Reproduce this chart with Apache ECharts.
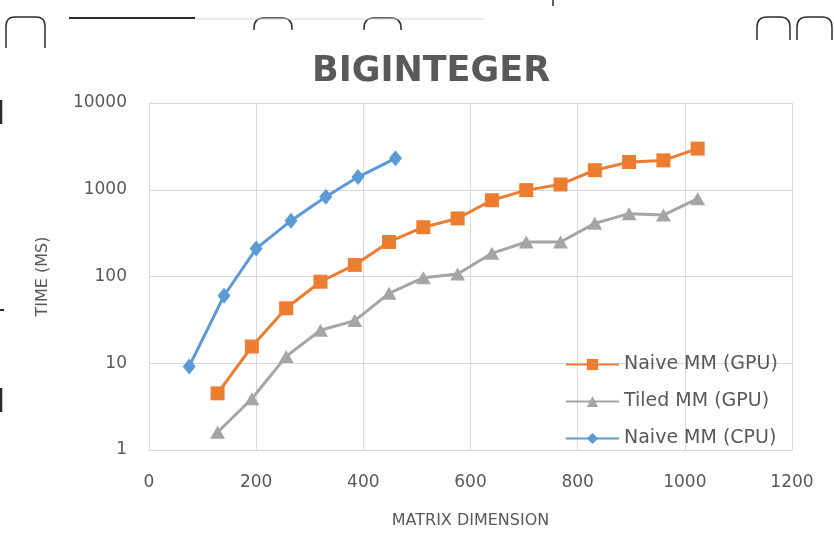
<!DOCTYPE html>
<html>
<head>
<meta charset="utf-8">
<script src="https://cdn.jsdelivr.net/npm/echarts@6/dist/echarts.min.js"></script>
<style>
  html, body { margin: 0; padding: 0; background: #ffffff; }
  #chart { width: 834px; height: 540px; }
</style>
</head>
<body>
<div id="chart"></div>
<script>
// Matrix dimensions used by the GPU runs
const gpuDims = [128, 192, 256, 320, 384, 448, 512, 576, 640, 704, 768, 832, 896, 960, 1024];
// Matrix dimensions used by the CPU run
const cpuDims = [75, 140, 200, 265, 330, 390, 460];

// Run times in milliseconds
const naiveGpuMs = [4.5, 15.6, 43, 87, 136, 250, 370, 467, 757, 990, 1150, 1680, 2090, 2180, 2980];
const tiledGpuMs = [1.6, 3.9, 12, 24, 31, 64, 97, 107, 185, 250, 250, 410, 530, 510, 790];
const naiveCpuMs = [9.2, 60, 210, 440, 830, 1400, 2300];

const seriesNames = ['Naive MM (GPU)', 'Tiled MM (GPU)', 'Naive MM (CPU)'];
const xTicks = [0, 200, 400, 600, 800, 1000, 1200];
const yTicks = [1, 10, 100, 1000, 10000];

const pairs = (xs, ys) => xs.map((x, i) => [x, ys[i]]);
const plain = v => String(Math.round(v));

const FONT = 'DejaVu Sans';
const TEXT = '#595959';
const GRID = '#D9D9D9';

// Selection-frame handles around the embedded chart object
const INK = { stroke: '#2b2b2b', lineWidth: 1.5, fill: null };
const handle = (x0, x1, y0, y1, r) => ([
  { type: 'polyline', shape: { points: [[x0, y1], [x0, y0 + r]] }, style: INK, silent: true },
  { type: 'bezierCurve', shape: { x1: x0, y1: y0 + r, cpx1: x0, cpy1: y0, x2: x0 + r, y2: y0 }, style: INK, silent: true },
  { type: 'polyline', shape: { points: [[x0 + r, y0], [x1 - r, y0]] }, style: INK, silent: true },
  { type: 'bezierCurve', shape: { x1: x1 - r, y1: y0, cpx1: x1, cpy1: y0, x2: x1, y2: y0 + r }, style: INK, silent: true },
  { type: 'polyline', shape: { points: [[x1, y0 + r], [x1, y1]] }, style: INK, silent: true }
]);
const stroke = (x1, y1, x2, y2, color, w) => ({
  type: 'line', shape: { x1, y1, x2, y2 }, style: { stroke: color, lineWidth: w }, silent: true
});

const chart = echarts.init(document.getElementById('chart'), null, { renderer: 'canvas' });
chart.setOption({
  backgroundColor: '#ffffff',
  animation: false,
  textStyle: { fontFamily: FONT },
  title: {
    text: 'BIGINTEGER',
    left: 307,
    top: 49,
    textStyle: { fontFamily: FONT, fontSize: 35, fontWeight: 'bold', color: TEXT }
  },
  legend: {
    data: seriesNames,
    orient: 'vertical',
    left: 565,
    top: 354,
    padding: 0,
    itemWidth: 53,
    itemHeight: 14,
    itemGap: 16,
    textStyle: { fontFamily: FONT, fontSize: 19, color: TEXT, lineHeight: 21 }
  },
  grid: { left: 149, right: 42, top: 103, bottom: 90, containLabel: false },
  xAxis: {
    type: 'value',
    min: xTicks[0],
    max: xTicks[xTicks.length - 1],
    interval: 200,
    name: 'MATRIX DIMENSION',
    nameLocation: 'middle',
    nameGap: 63,
    nameTextStyle: { fontFamily: FONT, fontSize: 16, color: TEXT },
    axisLine: { show: true, lineStyle: { color: GRID, width: 1 } },
    axisTick: { show: false },
    axisLabel: { margin: 24, fontFamily: FONT, fontSize: 17, color: TEXT, formatter: plain },
    splitLine: { show: true, lineStyle: { color: GRID, width: 1 } }
  },
  yAxis: {
    type: 'log',
    logBase: 10,
    min: yTicks[0],
    max: yTicks[yTicks.length - 1],
    name: 'TIME (MS)',
    nameLocation: 'middle',
    nameGap: 98,
    nameTextStyle: { fontFamily: FONT, fontSize: 16, color: TEXT },
    axisLine: { show: false },
    axisTick: { show: false },
    axisLabel: { margin: 22, fontFamily: FONT, fontSize: 17, color: TEXT, formatter: plain },
    splitLine: { show: true, lineStyle: { color: GRID, width: 1 } }
  },
  series: [
    {
      name: seriesNames[0], type: 'line', data: pairs(gpuDims, naiveGpuMs),
      symbol: 'rect', symbolSize: 14,
      itemStyle: { color: '#ED7D31' }, lineStyle: { color: '#ED7D31', width: 3 }, z: 3
    },
    {
      name: seriesNames[1], type: 'line', data: pairs(gpuDims, tiledGpuMs),
      symbol: 'triangle', symbolSize: [15, 13],
      itemStyle: { color: '#A5A5A5' }, lineStyle: { color: '#A5A5A5', width: 3 }, z: 2
    },
    {
      name: seriesNames[2], type: 'line', data: pairs(cpuDims, naiveCpuMs),
      symbol: 'diamond', symbolSize: [13, 16],
      itemStyle: { color: '#5B9BD5' }, lineStyle: { color: '#5B9BD5', width: 3 }, z: 4
    }
  ],
  graphic: [].concat(
    handle(6, 45, 17, 48, 9),
    handle(254, 292, 18, 30, 10),
    handle(364, 401, 18, 30, 10),
    handle(757, 790, 17, 40, 10),
    handle(797, 832, 17, 40, 10),
    [
      stroke(69, 18, 195, 18, '#2b2b2b', 1.8),
      stroke(195, 19, 484, 19, '#d6d6d6', 1.2),
      stroke(553, 0, 553, 6, '#2b2b2b', 1.5),
      stroke(1, 100, 1, 124, '#2b2b2b', 2.5),
      stroke(0, 310, 4, 310, '#2b2b2b', 2),
      stroke(1, 388, 1, 412, '#2b2b2b', 2.5)
    ]
  )
});
</script>
</body>
</html>
